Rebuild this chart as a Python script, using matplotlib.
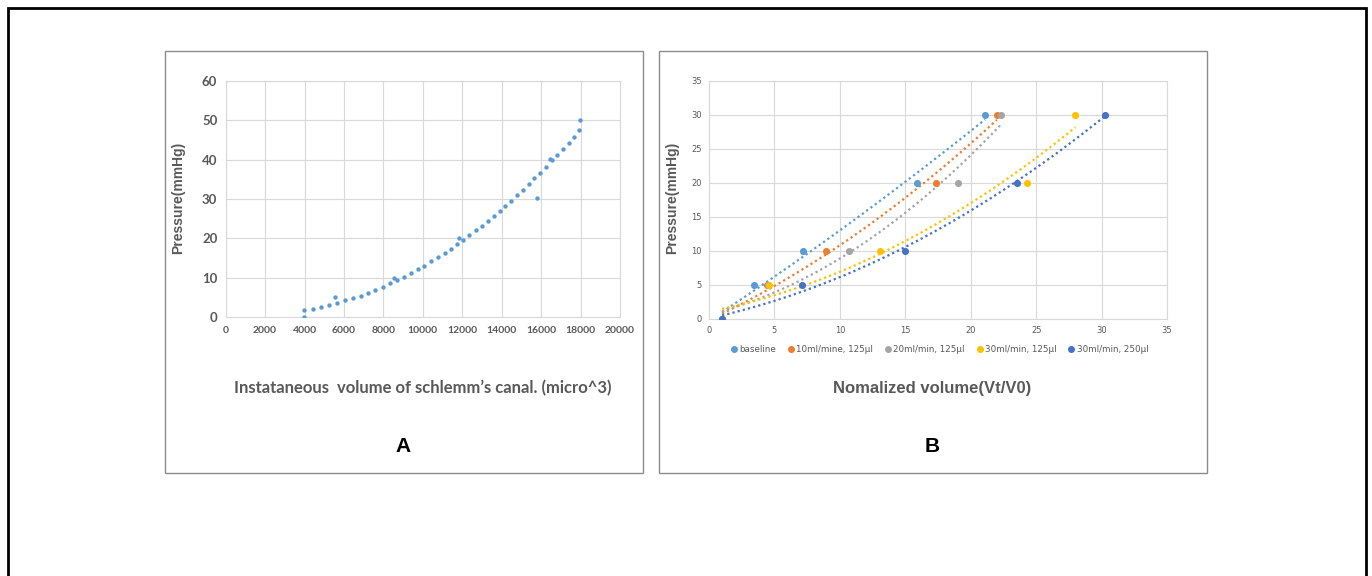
import numpy as np
import matplotlib
matplotlib.use('Agg')
import matplotlib.pyplot as plt
from matplotlib.patches import Rectangle
from matplotlib.lines import Line2D

# -- Дані: панель A -----------------------------------------------------------
vol_a = [3990, 3990, 4410, 4835, 5260, 5545, 5665, 6070, 6460, 6850, 7220,
         7590, 8000, 8350, 8555, 8705, 9060, 9420, 9740, 10075, 10415, 10750,
         11105, 11410, 11735, 11815, 12035, 12360, 12695, 13000, 13305, 13595,
         13895, 14185, 14470, 14795, 15080, 15370, 15655, 15775, 15945, 16245,
         16465, 16535, 16820, 17110, 17395, 17665, 17935, 17970]
pres_a = [0.0, 1.8, 2.2, 2.5, 3.1, 5.1, 3.7, 4.3, 4.8, 5.4, 6.2,
          6.9, 7.8, 8.7, 10.0, 9.5, 10.3, 11.2, 12.2, 13.1, 14.3, 15.3,
          16.4, 17.4, 18.5, 20.0, 19.7, 20.9, 22.1, 23.2, 24.5, 25.8,
          27.0, 28.2, 29.6, 31.1, 32.4, 33.7, 35.2, 30.2, 36.6, 38.2,
          40.2, 39.8, 41.2, 42.7, 44.2, 45.7, 47.4, 50.0]

# -- Дані: панель B -----------------------------------------------------------
labels_b = ['baseline', '10ml/mine, 125µl', '20ml/min, 125µl',
            '30ml/min, 125µl', '30ml/min, 250µl']
colors_b = ['#5B9BD5', '#ED7D31', '#A5A5A5', '#FFC000', '#4472C4']
pres_b = [0, 5, 10, 20, 30]
vol_b = [
    [1.0, 3.45, 7.2, 15.9, 21.1],
    [1.0, 4.4, 8.95, 17.35, 22.0],
    [1.0, 4.5, 10.7, 19.0, 22.3],
    [1.0, 4.55, 13.1, 24.3, 28.0],
    [1.0, 7.1, 14.95, 23.55, 30.25],
]

W, H = 1372, 576
fig = plt.figure(figsize=(W / 100, H / 100), dpi=100)
GRAY_TXT = '#595959'
GRID = '#D9D9D9'


def fx(px):
    return px / W


def fy(py):
    return 1 - py / H


# рамки
fig.patches.append(Rectangle((fx(8), fy(600)), fx(1358), 592 / H,
                             transform=fig.transFigure, fill=False,
                             edgecolor='black', linewidth=2))
for x0, x1 in [(165, 643), (659, 1207)]:
    fig.patches.append(Rectangle((fx(x0), fy(473)), fx(x1 - x0), 422 / H,
                                 transform=fig.transFigure, fill=False,
                                 edgecolor='#8C8C8C', linewidth=1))

# -- Панель A -----------------------------------------------------------------
ax1 = fig.add_axes([fx(225.7), fy(317.3), fx(620 - 225.7), (317.3 - 80.7) / H])
ax1.scatter(vol_a, pres_a, s=10, color='#5B9BD5', zorder=3, linewidths=0)
ax1.set_xlim(0, 20000)
ax1.set_ylim(0, 60)
ax1.set_xticks(range(0, 20001, 2000))
ax1.set_yticks(range(0, 61, 10))
ax1.grid(True, color=GRID, linewidth=0.8)
ax1.set_axisbelow(True)
for sp in ax1.spines.values():
    sp.set_color(GRID)
ax1.tick_params(length=0, pad=6)
for lab in ax1.get_xticklabels():
    lab.set(fontsize=7.5, fontweight='bold', color=GRAY_TXT, family='Lato')
for lab in ax1.get_yticklabels():
    lab.set(fontsize=9.5, fontweight='bold', color=GRAY_TXT, family='Lato')

fig.text(fx(178), fy(198), 'Pressure(mmHg)', rotation=90, ha='center',
         va='center', fontsize=10, fontweight='bold', color=GRAY_TXT,
         family='Liberation Sans')
fig.text(fx(423), fy(388), 'Instataneous  volume of schlemm\u2019s canal. (micro^3)',
         ha='center', va='center', fontsize=12.0, fontweight='bold',
         color=GRAY_TXT, family='Lato')
fig.text(fx(403), fy(446), 'A', ha='center', va='center', fontsize=15,
         fontweight='bold', color='black', family='Liberation Sans')

# -- Панель B -----------------------------------------------------------------
ax2 = fig.add_axes([fx(709), fy(318.7), fx(1167 - 709), (318.7 - 80.7) / H])
handles = []
for lab, col, xs in zip(labels_b, colors_b, vol_b):
    coef = np.polyfit(xs, pres_b, 2)
    xx = np.linspace(min(xs), max(xs), 200)
    ax2.plot(xx, np.polyval(coef, xx), color=col, linewidth=1.6,
             linestyle=(0, (1, 1.4)), zorder=2)
    ax2.scatter(xs, pres_b, s=26, color=col, zorder=3, linewidths=0)
    handles.append(Line2D([], [], marker='o', linestyle='none', color=col,
                          markersize=4, label=lab))
ax2.set_xlim(0, 35)
ax2.set_ylim(0, 35)
ax2.set_xticks(range(0, 36, 5))
ax2.set_yticks(range(0, 36, 5))
ax2.grid(True, color=GRID, linewidth=0.8)
ax2.set_axisbelow(True)
for sp in ax2.spines.values():
    sp.set_color(GRID)
ax2.tick_params(length=0, pad=5, labelsize=6, labelcolor=GRAY_TXT)

fig.legend(handles=handles, loc='center', bbox_to_anchor=(fx(939), fy(350)),
           ncol=5, frameon=False, fontsize=6.3, handletextpad=0.1,
           columnspacing=1.2, labelcolor=GRAY_TXT, borderpad=0,
           handlelength=1.0)

fig.text(fx(672), fy(198), 'Pressure(mmHg)', rotation=90, ha='center',
         va='center', fontsize=10, fontweight='bold', color=GRAY_TXT,
         family='Liberation Sans')
fig.text(fx(932), fy(388), 'Nomalized volume(Vt/V0)', ha='center',
         va='center', fontsize=12, fontweight='bold', color=GRAY_TXT,
         family='Liberation Sans')
fig.text(fx(932), fy(446), 'B', ha='center', va='center', fontsize=15,
         fontweight='bold', color='black', family='Liberation Sans')

fig.savefig('out.png', dpi=100, facecolor='white')
